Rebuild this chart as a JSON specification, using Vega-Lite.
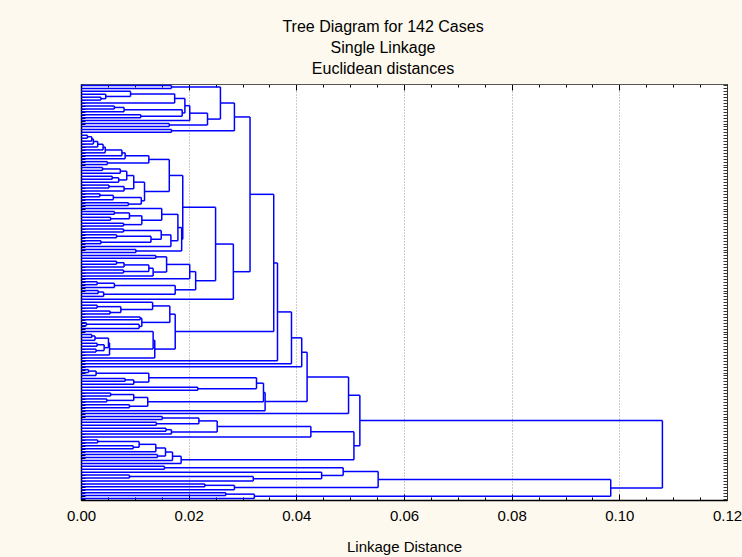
{
"$schema": "https://vega.github.io/schema/vega-lite/v6.json",
"width": 646, "height": 416,
"autosize": {"type": "none"},
"padding": {"left": 81, "top": 84, "right": 15, "bottom": 57},
"background": "#FDF9EE",
"config": {"view": {"fill": "white", "stroke": "#222", "strokeWidth": 1}, "font": "Liberation Sans"},
"title": {"text": ["Tree Diagram for 142 Cases", "Single Linkage", "Euclidean distances"], "fontSize": 16, "fontWeight": "normal", "font": "Liberation Sans", "color": "#000", "lineHeight": 21, "anchor": "middle", "frame": "group", "offset": 7, "dx": -21},
"data": {"values": [
{"h":0.0168,"ya":0.5,"yb":1.5,"ha":0,"hb":0},
{"h":0.0037,"ya":4.5,"yb":5.5,"ha":0,"hb":0},
{"h":0.0046,"ya":3.5,"yb":5.0,"ha":0,"hb":0.0037},
{"h":0.0092,"ya":2.5,"yb":4.25,"ha":0,"hb":0.0046},
{"h":0.0174,"ya":3.375,"yb":6.5,"ha":0.0092,"hb":0},
{"h":0.0062,"ya":7.5,"yb":8.5,"ha":0,"hb":0},
{"h":0.0080,"ya":8.0,"yb":9.5,"ha":0.0062,"hb":0},
{"h":0.0111,"ya":10.5,"yb":11.5,"ha":0,"hb":0},
{"h":0.0188,"ya":8.75,"yb":11.0,"ha":0.0080,"hb":0.0111},
{"h":0.0193,"ya":4.9375,"yb":9.875,"ha":0.0174,"hb":0.0188},
{"h":0.0202,"ya":7.406,"yb":12.5,"ha":0.0193,"hb":0},
{"h":0.0164,"ya":13.5,"yb":14.5,"ha":0,"hb":0},
{"h":0.0235,"ya":9.953,"yb":14.0,"ha":0.0202,"hb":0.0164},
{"h":0.0259,"ya":1.0,"yb":11.977,"ha":0.0168,"hb":0.0235},
{"h":0.0168,"ya":15.5,"yb":16.5,"ha":0,"hb":0},
{"h":0.0285,"ya":6.488,"yb":16.0,"ha":0.0259,"hb":0.0168},
{"h":0.0012,"ya":17.5,"yb":18.5,"ha":0,"hb":0},
{"h":0.0020,"ya":18.0,"yb":19.5,"ha":0.0012,"hb":0},
{"h":0.0023,"ya":18.75,"yb":20.5,"ha":0.0020,"hb":0},
{"h":0.0031,"ya":19.625,"yb":21.5,"ha":0.0023,"hb":0},
{"h":0.0041,"ya":20.5625,"yb":22.5,"ha":0.0031,"hb":0},
{"h":0.0045,"ya":21.53,"yb":23.5,"ha":0.0041,"hb":0},
{"h":0.0076,"ya":22.52,"yb":24.5,"ha":0.0045,"hb":0},
{"h":0.0082,"ya":23.51,"yb":25.5,"ha":0.0076,"hb":0},
{"h":0.0049,"ya":26.5,"yb":27.5,"ha":0,"hb":0},
{"h":0.0126,"ya":24.5,"yb":27.0,"ha":0.0082,"hb":0.0049},
{"h":0.0040,"ya":28.5,"yb":29.5,"ha":0,"hb":0},
{"h":0.0073,"ya":29.0,"yb":30.5,"ha":0.0040,"hb":0},
{"h":0.0058,"ya":31.5,"yb":32.5,"ha":0,"hb":0},
{"h":0.0070,"ya":32.0,"yb":33.5,"ha":0.0058,"hb":0},
{"h":0.0085,"ya":29.75,"yb":32.75,"ha":0.0073,"hb":0.0070},
{"h":0.0052,"ya":34.5,"yb":35.5,"ha":0,"hb":0},
{"h":0.0080,"ya":35.0,"yb":36.5,"ha":0.0052,"hb":0},
{"h":0.0098,"ya":31.25,"yb":35.75,"ha":0.0085,"hb":0.0080},
{"h":0.0035,"ya":37.5,"yb":38.5,"ha":0,"hb":0},
{"h":0.0060,"ya":38.0,"yb":39.5,"ha":0.0035,"hb":0},
{"h":0.0088,"ya":40.5,"yb":41.5,"ha":0,"hb":0},
{"h":0.0112,"ya":38.75,"yb":41.0,"ha":0.0060,"hb":0.0088},
{"h":0.0118,"ya":33.5,"yb":39.875,"ha":0.0098,"hb":0.0112},
{"h":0.0164,"ya":25.75,"yb":36.69,"ha":0.0126,"hb":0.0118},
{"h":0.0062,"ya":43.5,"yb":44.5,"ha":0,"hb":0},
{"h":0.0055,"ya":45.5,"yb":46.5,"ha":0,"hb":0},
{"h":0.0090,"ya":44.0,"yb":46.0,"ha":0.0062,"hb":0.0055},
{"h":0.0079,"ya":47.5,"yb":48.5,"ha":0,"hb":0},
{"h":0.0113,"ya":45.0,"yb":48.0,"ha":0.0090,"hb":0.0079},
{"h":0.0150,"ya":42.5,"yb":46.5,"ha":0,"hb":0.0113},
{"h":0.0079,"ya":49.5,"yb":50.5,"ha":0,"hb":0},
{"h":0.0066,"ya":51.5,"yb":52.5,"ha":0,"hb":0},
{"h":0.0037,"ya":53.5,"yb":54.5,"ha":0,"hb":0},
{"h":0.0130,"ya":52.0,"yb":54.0,"ha":0.0066,"hb":0.0037},
{"h":0.0149,"ya":50.0,"yb":53.0,"ha":0.0079,"hb":0.0130},
{"h":0.0167,"ya":51.5,"yb":55.5,"ha":0.0149,"hb":0},
{"h":0.0180,"ya":44.5,"yb":53.5,"ha":0.0150,"hb":0.0167},
{"h":0.0102,"ya":56.5,"yb":57.5,"ha":0,"hb":0},
{"h":0.0187,"ya":49.0,"yb":57.0,"ha":0.0180,"hb":0.0102},
{"h":0.0189,"ya":31.22,"yb":53.0,"ha":0.0164,"hb":0.0187},
{"h":0.0139,"ya":58.5,"yb":59.5,"ha":0,"hb":0},
{"h":0.0066,"ya":60.5,"yb":61.5,"ha":0,"hb":0},
{"h":0.0080,"ya":61.0,"yb":62.5,"ha":0.0066,"hb":0},
{"h":0.0079,"ya":63.5,"yb":64.5,"ha":0,"hb":0},
{"h":0.0126,"ya":61.75,"yb":64.0,"ha":0.0080,"hb":0.0079},
{"h":0.0134,"ya":62.875,"yb":65.5,"ha":0.0126,"hb":0},
{"h":0.0159,"ya":59.0,"yb":64.19,"ha":0.0139,"hb":0.0134},
{"h":0.0202,"ya":61.59,"yb":66.5,"ha":0.0159,"hb":0},
{"h":0.0030,"ya":67.5,"yb":68.5,"ha":0,"hb":0},
{"h":0.0062,"ya":68.0,"yb":69.5,"ha":0.0030,"hb":0},
{"h":0.0032,"ya":70.5,"yb":71.5,"ha":0,"hb":0},
{"h":0.0042,"ya":71.0,"yb":72.5,"ha":0.0032,"hb":0},
{"h":0.0175,"ya":68.75,"yb":71.75,"ha":0.0062,"hb":0.0042},
{"h":0.0213,"ya":64.05,"yb":70.25,"ha":0.0202,"hb":0.0175},
{"h":0.0250,"ya":42.11,"yb":67.15,"ha":0.0189,"hb":0.0213},
{"h":0.0283,"ya":54.63,"yb":73.5,"ha":0.0250,"hb":0},
{"h":0.0314,"ya":11.244,"yb":64.07,"ha":0.0285,"hb":0.0283},
{"h":0.0030,"ya":75.5,"yb":76.5,"ha":0,"hb":0},
{"h":0.0054,"ya":77.5,"yb":78.5,"ha":0,"hb":0},
{"h":0.0074,"ya":76.0,"yb":78.0,"ha":0.0030,"hb":0.0054},
{"h":0.0133,"ya":74.5,"yb":77.0,"ha":0,"hb":0.0074},
{"h":0.0110,"ya":79.5,"yb":80.5,"ha":0,"hb":0},
{"h":0.0010,"ya":81.5,"yb":82.5,"ha":0,"hb":0},
{"h":0.0108,"ya":82.0,"yb":83.5,"ha":0.0010,"hb":0},
{"h":0.0113,"ya":80.0,"yb":82.75,"ha":0.0110,"hb":0.0108},
{"h":0.0165,"ya":75.75,"yb":81.375,"ha":0.0133,"hb":0.0113},
{"h":0.0020,"ya":85.5,"yb":86.5,"ha":0,"hb":0},
{"h":0.0026,"ya":86.0,"yb":87.5,"ha":0.0020,"hb":0},
{"h":0.0030,"ya":88.5,"yb":89.5,"ha":0,"hb":0},
{"h":0.0028,"ya":90.5,"yb":91.5,"ha":0,"hb":0},
{"h":0.0043,"ya":89.0,"yb":91.0,"ha":0.0030,"hb":0.0028},
{"h":0.0051,"ya":86.75,"yb":90.0,"ha":0.0026,"hb":0.0043},
{"h":0.0053,"ya":88.375,"yb":92.5,"ha":0.0051,"hb":0},
{"h":0.0134,"ya":84.5,"yb":90.44,"ha":0,"hb":0.0053},
{"h":0.0137,"ya":87.47,"yb":93.5,"ha":0.0134,"hb":0},
{"h":0.0175,"ya":78.56,"yb":90.48,"ha":0.0165,"hb":0.0137},
{"h":0.0358,"ya":37.66,"yb":84.52,"ha":0.0314,"hb":0.0175},
{"h":0.0365,"ya":61.09,"yb":94.5,"ha":0.0358,"hb":0},
{"h":0.0391,"ya":77.8,"yb":95.5,"ha":0.0365,"hb":0},
{"h":0.0410,"ya":86.65,"yb":96.5,"ha":0.0391,"hb":0},
{"h":0.0014,"ya":97.5,"yb":98.5,"ha":0,"hb":0},
{"h":0.0028,"ya":98.0,"yb":99.5,"ha":0.0014,"hb":0},
{"h":0.0082,"ya":100.5,"yb":101.5,"ha":0,"hb":0},
{"h":0.0098,"ya":101.0,"yb":102.5,"ha":0.0082,"hb":0},
{"h":0.0126,"ya":98.75,"yb":101.75,"ha":0.0028,"hb":0.0098},
{"h":0.0217,"ya":103.5,"yb":104.5,"ha":0,"hb":0},
{"h":0.0326,"ya":100.25,"yb":104.0,"ha":0.0126,"hb":0.0217},
{"h":0.0055,"ya":105.5,"yb":106.5,"ha":0,"hb":0},
{"h":0.0048,"ya":107.5,"yb":108.5,"ha":0,"hb":0},
{"h":0.0098,"ya":106.0,"yb":108.0,"ha":0.0055,"hb":0.0048},
{"h":0.0090,"ya":109.5,"yb":110.5,"ha":0,"hb":0},
{"h":0.0124,"ya":107.0,"yb":110.0,"ha":0.0098,"hb":0.0090},
{"h":0.0339,"ya":102.125,"yb":108.5,"ha":0.0326,"hb":0.0124},
{"h":0.0342,"ya":105.31,"yb":111.5,"ha":0.0339,"hb":0},
{"h":0.0420,"ya":91.57,"yb":108.41,"ha":0.0410,"hb":0.0342},
{"h":0.0497,"ya":99.99,"yb":112.5,"ha":0.0420,"hb":0},
{"h":0.0151,"ya":113.5,"yb":114.5,"ha":0,"hb":0},
{"h":0.0140,"ya":115.5,"yb":116.5,"ha":0,"hb":0},
{"h":0.0219,"ya":114.0,"yb":116.0,"ha":0.0151,"hb":0.0140},
{"h":0.0158,"ya":117.5,"yb":118.5,"ha":0,"hb":0},
{"h":0.0168,"ya":118.0,"yb":119.5,"ha":0.0158,"hb":0},
{"h":0.0253,"ya":115.0,"yb":118.75,"ha":0.0219,"hb":0.0168},
{"h":0.0427,"ya":116.875,"yb":120.5,"ha":0.0253,"hb":0},
{"h":0.0031,"ya":121.5,"yb":122.5,"ha":0,"hb":0},
{"h":0.0097,"ya":123.5,"yb":124.5,"ha":0,"hb":0},
{"h":0.0108,"ya":122.0,"yb":124.0,"ha":0.0031,"hb":0.0097},
{"h":0.0139,"ya":123.0,"yb":125.5,"ha":0.0108,"hb":0},
{"h":0.0142,"ya":126.5,"yb":127.5,"ha":0,"hb":0},
{"h":0.0157,"ya":124.25,"yb":127.0,"ha":0.0139,"hb":0.0142},
{"h":0.0170,"ya":125.625,"yb":128.5,"ha":0.0157,"hb":0},
{"h":0.0186,"ya":127.06,"yb":129.5,"ha":0.0170,"hb":0},
{"h":0.0507,"ya":118.69,"yb":128.28,"ha":0.0427,"hb":0.0186},
{"h":0.0518,"ya":106.25,"yb":123.49,"ha":0.0497,"hb":0.0507},
{"h":0.0155,"ya":130.5,"yb":131.5,"ha":0,"hb":0},
{"h":0.0090,"ya":133.5,"yb":134.5,"ha":0,"hb":0},
{"h":0.0320,"ya":134.0,"yb":135.5,"ha":0.0090,"hb":0},
{"h":0.0447,"ya":132.5,"yb":134.75,"ha":0,"hb":0.0320},
{"h":0.0487,"ya":131.0,"yb":133.625,"ha":0.0155,"hb":0.0447},
{"h":0.0230,"ya":136.5,"yb":137.5,"ha":0,"hb":0},
{"h":0.0285,"ya":137.0,"yb":138.5,"ha":0.0230,"hb":0},
{"h":0.0552,"ya":132.31,"yb":137.75,"ha":0.0487,"hb":0.0285},
{"h":0.0269,"ya":139.5,"yb":140.5,"ha":0,"hb":0},
{"h":0.0322,"ya":140.0,"yb":141.5,"ha":0.0269,"hb":0},
{"h":0.0984,"ya":135.03,"yb":140.75,"ha":0.0552,"hb":0.0322},
{"h":0.1080,"ya":114.87,"yb":137.89,"ha":0.0518,"hb":0.0984}
]},
"resolve": {"axis": {"x": "independent", "y": "independent"}},
"layer": [
{"mark": {"type": "rule", "color": "#0000ff", "strokeWidth": 1.5},
 "encoding": {
  "x": {"field": "h", "type": "quantitative", "scale": {"domain": [0, 0.12], "nice": false, "zero": false},
   "axis": {"orient": "bottom", "values": [0,0.005,0.01,0.015,0.02,0.025,0.03,0.035,0.04,0.045,0.05,0.055,0.06,0.065,0.07,0.075,0.08,0.085,0.09,0.095,0.1,0.105,0.11,0.115,0.12],
    "labelExpr": "abs(datum.value*50-round(datum.value*50))<0.000001 ? format(datum.value,'.2f') : ''",
    "tickSize": {"condition": {"test": "abs(datum.value*50-round(datum.value*50))<0.000001", "value": -6}, "value": -3},
    "tickColor": "#000", "tickWidth": 1, "domainColor": "#000", "domainWidth": 1.5,
    "labelFontSize": 15, "labelColor": "#000", "labelPadding": 14, "labelFlush": false, "labelOverlap": false,
    "grid": true, "gridColor": "#999", "gridDash": [1, 2],
    "gridOpacity": {"condition": {"test": "datum.value>0.001 && datum.value<0.119 && abs(datum.value*50-round(datum.value*50))<0.000001", "value": 1}, "value": 0},
    "title": "Linkage Distance", "titleFontSize": 15, "titleFontWeight": "normal", "titleColor": "#000", "titlePadding": 13}},
  "y": {"field": "ya", "type": "quantitative", "scale": {"domain": [0, 142], "reverse": true, "nice": false, "zero": false},
   "axis": {"orient": "left", "values": [0.5,1.5,2.5,3.5,4.5,5.5,6.5,7.5,8.5,9.5,10.5,11.5,12.5,13.5,14.5,15.5,16.5,17.5,18.5,19.5,20.5,21.5,22.5,23.5,24.5,25.5,26.5,27.5,28.5,29.5,30.5,31.5,32.5,33.5,34.5,35.5,36.5,37.5,38.5,39.5,40.5,41.5,42.5,43.5,44.5,45.5,46.5,47.5,48.5,49.5,50.5,51.5,52.5,53.5,54.5,55.5,56.5,57.5,58.5,59.5,60.5,61.5,62.5,63.5,64.5,65.5,66.5,67.5,68.5,69.5,70.5,71.5,72.5,73.5,74.5,75.5,76.5,77.5,78.5,79.5,80.5,81.5,82.5,83.5,84.5,85.5,86.5,87.5,88.5,89.5,90.5,91.5,92.5,93.5,94.5,95.5,96.5,97.5,98.5,99.5,100.5,101.5,102.5,103.5,104.5,105.5,106.5,107.5,108.5,109.5,110.5,111.5,112.5,113.5,114.5,115.5,116.5,117.5,118.5,119.5,120.5,121.5,122.5,123.5,124.5,125.5,126.5,127.5,128.5,129.5,130.5,131.5,132.5,133.5,134.5,135.5,136.5,137.5,138.5,139.5,140.5,141.5],
    "labels": false, "title": null, "tickSize": -4, "tickColor": "#000", "domainColor": "#000", "domainWidth": 1.5, "grid": false}},
  "y2": {"field": "yb"}}},
{"mark": {"type": "rule", "color": "#0000ff", "strokeWidth": 1.5},
 "encoding": {
  "x": {"field": "ha", "type": "quantitative",
   "axis": {"orient": "top", "values": [0,0.005,0.01,0.015,0.02,0.025,0.03,0.035,0.04,0.045,0.05,0.055,0.06,0.065,0.07,0.075,0.08,0.085,0.09,0.095,0.1,0.105,0.11,0.115,0.12],
    "labels": false, "title": null, "grid": false,
    "tickSize": {"condition": {"test": "abs(datum.value*50-round(datum.value*50))<0.000001", "value": -6}, "value": -3},
    "tickColor": "#000", "domainColor": "#555", "domainWidth": 1}},
  "x2": {"field": "h"},
  "y": {"field": "ya", "type": "quantitative",
   "axis": {"orient": "right", "values": [0.5,1.5,2.5,3.5,4.5,5.5,6.5,7.5,8.5,9.5,10.5,11.5,12.5,13.5,14.5,15.5,16.5,17.5,18.5,19.5,20.5,21.5,22.5,23.5,24.5,25.5,26.5,27.5,28.5,29.5,30.5,31.5,32.5,33.5,34.5,35.5,36.5,37.5,38.5,39.5,40.5,41.5,42.5,43.5,44.5,45.5,46.5,47.5,48.5,49.5,50.5,51.5,52.5,53.5,54.5,55.5,56.5,57.5,58.5,59.5,60.5,61.5,62.5,63.5,64.5,65.5,66.5,67.5,68.5,69.5,70.5,71.5,72.5,73.5,74.5,75.5,76.5,77.5,78.5,79.5,80.5,81.5,82.5,83.5,84.5,85.5,86.5,87.5,88.5,89.5,90.5,91.5,92.5,93.5,94.5,95.5,96.5,97.5,98.5,99.5,100.5,101.5,102.5,103.5,104.5,105.5,106.5,107.5,108.5,109.5,110.5,111.5,112.5,113.5,114.5,115.5,116.5,117.5,118.5,119.5,120.5,121.5,122.5,123.5,124.5,125.5,126.5,127.5,128.5,129.5,130.5,131.5,132.5,133.5,134.5,135.5,136.5,137.5,138.5,139.5,140.5,141.5],
    "labels": false, "title": null, "tickSize": -4, "tickColor": "#333", "domainColor": "#333", "domainWidth": 1, "grid": false}}}},
{"mark": {"type": "rule", "color": "#0000ff", "strokeWidth": 1.5},
 "encoding": {
  "x": {"field": "hb", "type": "quantitative", "axis": null},
  "x2": {"field": "h"},
  "y": {"field": "yb", "type": "quantitative", "axis": null}}}
]
}
